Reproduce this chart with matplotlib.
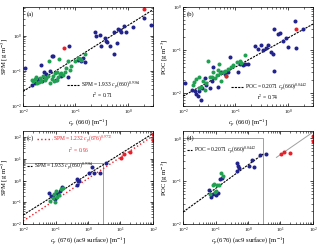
import numpy as np
import matplotlib
matplotlib.use('Agg')
import matplotlib.pyplot as plt
from matplotlib.ticker import LogLocator, NullFormatter

plt.rcParams['font.family'] = ['Liberation Serif', 'DejaVu Serif']
plt.rcParams['mathtext.fontset'] = 'stix'

BLUE = '#23238e'
GREEN = '#22a052'
RED = '#e8202a'
GRAY = '#a0a0a0'

# ---- panel (a): SPM vs cp(660)
a_blue_x = [0.0108, 0.015, 0.017, 0.019, 0.020, 0.022, 0.023, 0.025, 0.028, 0.033, 0.035, 0.038, 0.043, 0.054,
            0.072, 0.074, 0.11, 0.12, 0.13, 0.14, 0.15, 0.235, 0.25, 0.29, 0.31, 0.36, 0.38, 0.40, 0.45, 0.55,
            0.55, 0.61, 0.65, 0.70, 0.75, 0.84, 0.90, 1.26, 2.0, 2.8]
a_blue_y = [0.12, 0.040, 0.045, 0.050, 0.060, 0.15, 0.050, 0.090, 0.080, 0.10, 0.26, 0.27, 0.055, 0.072,
            0.066, 0.52, 0.20, 0.21, 0.19, 0.23, 0.18, 1.3, 0.95, 1.05, 0.50, 0.85, 0.68, 0.65, 0.50, 1.24,
            0.30, 0.62, 1.55, 1.4, 1.3, 1.9, 1.25, 1.8, 3.2, 2.0]
a_green_x = [0.0145, 0.0155, 0.0167, 0.018, 0.0185, 0.0204, 0.0214, 0.0224, 0.024, 0.026, 0.028, 0.030,
             0.031, 0.032, 0.035, 0.037, 0.0385, 0.040, 0.044, 0.045, 0.047, 0.049, 0.050, 0.054, 0.058,
             0.063, 0.067, 0.072, 0.078, 0.083, 0.097, 0.112, 0.12, 0.13, 0.15]
a_green_y = [0.055, 0.051, 0.057, 0.066, 0.045, 0.047, 0.061, 0.050, 0.069, 0.055, 0.061, 0.069,
             0.19, 0.045, 0.057, 0.072, 0.050, 0.089, 0.095, 0.055, 0.066, 0.21, 0.081, 0.089, 0.077,
             0.095, 0.12, 0.19, 0.107, 0.138, 0.19, 0.23, 0.21, 0.20, 0.29]
a_red_x = [0.06, 2.0]
a_red_y = [0.45, 5.8]

# ---- panel (b): POC vs cp(660)
b_blue_x = [0.0108, 0.015, 0.017, 0.018, 0.019, 0.020, 0.022, 0.023, 0.026, 0.028, 0.032, 0.035, 0.037,
            0.047, 0.054, 0.063, 0.072, 0.078, 0.11, 0.12, 0.13, 0.14, 0.15, 0.17, 0.235, 0.27, 0.31, 0.33,
            0.39, 0.42, 0.48, 0.52, 0.55, 0.55, 0.65, 0.70, 0.81, 0.90, 1.0, 1.36, 1.4, 1.9]
b_blue_y = [0.017, 0.012, 0.011, 0.0097, 0.0084, 0.011, 0.007, 0.013, 0.022, 0.015, 0.013, 0.019, 0.04,
            0.014, 0.03, 0.027, 0.031, 0.068, 0.03, 0.048, 0.05, 0.045, 0.047, 0.047, 0.125, 0.105, 0.13, 0.1,
            0.11, 0.13, 0.09, 0.08, 0.3, 0.033, 0.23, 0.25, 0.16, 0.19, 0.12, 0.46, 0.11, 0.3]
b_green_x = [0.0155, 0.016, 0.018, 0.020, 0.0204, 0.022, 0.024, 0.026, 0.028, 0.030, 0.032, 0.035, 0.037,
             0.040, 0.044, 0.047, 0.049, 0.050, 0.054, 0.058, 0.063, 0.067, 0.072, 0.083, 0.09, 0.105, 0.12,
             0.13, 0.15]
b_green_y = [0.015, 0.018, 0.021, 0.023, 0.013, 0.014, 0.019, 0.012, 0.017, 0.055, 0.024, 0.024, 0.03,
             0.022, 0.026, 0.034, 0.048, 0.029, 0.019, 0.03, 0.032, 0.025, 0.037, 0.04, 0.045, 0.053, 0.055,
             0.05, 0.077]
b_red_x = [0.065, 1.45]
b_red_y = [0.025, 0.3]

# ---- panels (c) and (d): cp(676) ac9 surface
cd_blue_x = [0.064, 0.075, 0.085, 0.095, 0.107, 0.12, 0.136, 0.153, 0.45, 0.47, 0.5, 0.52, 1.1, 1.29, 1.58, 2.35, 3.6]
c_blue_y = [0.28, 0.2, 0.19, 0.14, 0.28, 0.25, 0.34, 0.5, 1.15, 0.6, 0.9, 1.0, 2.1, 4.0, 2.1, 2.2, 6.2]
d_blue_y = [0.064, 0.043, 0.05, 0.052, 0.047, 0.052, 0.11, 0.12, 0.26, 0.17, 0.23, 0.2, 0.23, 0.32, 0.22, 0.41, 0.43]
cd_green_x = [0.07, 0.085, 0.089, 0.095, 0.1, 0.11, 0.13, 0.146, 0.165]
c_green_y = [0.12, 0.15, 0.23, 0.1, 0.33, 0.17, 0.22, 0.4, 0.44]
d_green_y = [0.05, 0.08, 0.085, 0.055, 0.058, 0.08, 0.08, 0.16, 0.13]
cd_red_x = [10.5, 13, 20, 97, 97]
c_red_y = [11, 16, 20, 130, 70]
d_red_y = [0.43, 0.48, 0.46, 1.15, 0.85]

# fits (coefficient, exponent)
spm_fit = (1.933, 0.9364)
spm_fit_ac9 = (1.232, 0.9772)
poc_fit_b = (0.19, 0.675)   # line as drawn in (b)
poc_fit_d = (0.24, 0.55)    # line as drawn in (d)
red_fit_d = (0.125, 0.525)

lim_a = [(0.01, 3), (0.01, 6.5)]
lim_b = [(0.01, 3), (0.005, 1)]
lim_c = [(0.01, 100), (0.01, 190)]
lim_d = [(0.01, 100), (0.01, 1.5)]

fig = plt.figure(figsize=(3.2, 2.47), dpi=100)
axa = fig.add_axes([0.072, 0.571, 0.406, 0.401])
axb = fig.add_axes([0.572, 0.571, 0.406, 0.401])
axc = fig.add_axes([0.072, 0.093, 0.406, 0.377])
axd = fig.add_axes([0.572, 0.093, 0.406, 0.377])

ms = 2.9
fs = 4.0
lfs = 4.8


def style(ax, lims):
    ax.set_xscale('log')
    ax.set_yscale('log')
    ax.set_xlim(*lims[0])
    ax.set_ylim(*lims[1])
    ax.tick_params(which='both', direction='in', top=True, right=True, labelsize=3.6, pad=1.2)
    ax.tick_params(which='major', length=2.2, width=0.5)
    ax.tick_params(which='minor', length=1.2, width=0.4)
    ax.xaxis.set_minor_locator(LogLocator(subs=np.arange(2, 10)))
    ax.yaxis.set_minor_locator(LogLocator(subs=np.arange(2, 10)))
    ax.xaxis.set_minor_formatter(NullFormatter())
    ax.yaxis.set_minor_formatter(NullFormatter())
    for s in ax.spines.values():
        s.set_linewidth(0.5)


def fitline(ax, fit, x0, x1, **kw):
    xx = np.logspace(np.log10(x0), np.log10(x1), 50)
    return ax.plot(xx, fit[0] * xx ** fit[1], **kw)


# (a)
style(axa, lim_a)
fitline(axa, spm_fit, 0.01, 3, color='k', ls='--', lw=0.8, dashes=(2, 1),
        label=r'SPM = 1.933 $c_p$(660)$^{0.9364}$')
axa.plot(a_blue_x, a_blue_y, 'o', color=BLUE, ms=ms, mec='none')
axa.plot(a_green_x, a_green_y, 'o', color=GREEN, ms=ms, mec='none')
axa.plot(a_red_x, a_red_y, 'o', color=RED, ms=ms, mec='none')
axa.legend(loc='center left', bbox_to_anchor=(0.34, 0.21), frameon=False, fontsize=fs,
           handlelength=2.2, handletextpad=0.3, borderpad=0, borderaxespad=0)
axa.text(0.61, 0.11, r'r$^2$ = 0.71', transform=axa.transAxes, fontsize=fs, ha='center', va='center')
axa.text(0.03, 0.93, '(a)', transform=axa.transAxes, fontsize=lfs, ha='left', va='center')
axa.set_ylabel(r'SPM [g m$^{-3}$]', fontsize=lfs, labelpad=0.5)
axa.set_xlabel(r'$c_p$ (660) [m$^{-1}$]', fontsize=lfs, labelpad=0.5)

# (b)
style(axb, lim_b)
fitline(axb, poc_fit_b, 0.01, 3, color='k', ls='--', lw=0.8, dashes=(2, 1),
        label=r'POC = 0.2071 $c_p$(660)$^{0.8442}$')
axb.plot(b_blue_x, b_blue_y, 'o', color=BLUE, ms=ms, mec='none')
axb.plot(b_green_x, b_green_y, 'o', color=GREEN, ms=ms, mec='none')
axb.plot(b_red_x, b_red_y, 'o', color=RED, ms=ms, mec='none')
axb.legend(loc='center left', bbox_to_anchor=(0.37, 0.185), frameon=False, fontsize=fs,
           handlelength=2.2, handletextpad=0.3, borderpad=0, borderaxespad=0)
axb.text(0.65, 0.09, r'r$^2$ = 0.74', transform=axb.transAxes, fontsize=fs, ha='center', va='center')
axb.text(0.03, 0.93, '(b)', transform=axb.transAxes, fontsize=lfs, ha='left', va='center')
axb.set_ylabel(r'POC [g m$^{-3}$]', fontsize=lfs, labelpad=0.5)
axb.set_xlabel(r'$c_p$ (660) [m$^{-1}$]', fontsize=lfs, labelpad=0.5)

# (c)
style(axc, lim_c)
axc.plot([lim_a[0][0], lim_a[0][1], lim_a[0][1]], [lim_a[1][1], lim_a[1][1], lim_c[1][0]], color=GRAY, lw=0.7)
l1, = fitline(axc, spm_fit, 0.01, 100, color='k', ls='--', lw=0.8, dashes=(2, 1),
              label=r'SPM = 1.933 $c_p$(660)$^{0.9364}$')
l2, = fitline(axc, spm_fit_ac9, 0.01, 100, color=RED, ls=':', lw=1.0,
              label=r'SPM = 1.232 $c_p$(676)$^{0.9772}$')
axc.plot(cd_blue_x, c_blue_y, 'o', color=BLUE, ms=ms, mec='none')
axc.plot(cd_green_x, c_green_y, 'o', color=GREEN, ms=ms, mec='none')
axc.plot(cd_red_x, c_red_y, 'o', color=RED, ms=ms, mec='none')
leg = axc.legend(handles=[l2], loc='center left', bbox_to_anchor=(0.11, 0.91), frameon=False, fontsize=fs,
                 handlelength=2.6, handletextpad=0.3, borderpad=0, borderaxespad=0, labelcolor=RED)
axc.add_artist(leg)
axc.legend(handles=[l1], loc='center left', bbox_to_anchor=(0.03, 0.625), frameon=False, fontsize=fs,
           handlelength=1.0, handletextpad=0.3, borderpad=0, borderaxespad=0)
axc.text(0.43, 0.795, r'r$^2$ = 0.96', transform=axc.transAxes, fontsize=fs, ha='center', va='center', color=RED)
axc.text(0.03, 0.925, '(c)', transform=axc.transAxes, fontsize=lfs, ha='left', va='center')
axc.set_ylabel(r'SPM [g m$^{-3}$]', fontsize=lfs, labelpad=0.5)
axc.set_xlabel(r'$c_p$ (676) (ac9 surface) [m$^{-1}$]', fontsize=lfs, labelpad=0.5)

# (d)
style(axd, lim_d)
axd.plot([lim_b[0][0], lim_b[0][1], lim_b[0][1]], [lim_b[1][1], lim_b[1][1], lim_d[1][0]], color=GRAY, lw=0.7)
fitline(axd, red_fit_d, 7.5, 100, color=GRAY, lw=0.7)
l3, = fitline(axd, poc_fit_d, 0.01, 3, color='k', ls='--', lw=0.8, dashes=(2, 1),
              label=r'POC = 0.2071 $c_p$(660)$^{0.8442}$')
axd.plot(cd_blue_x, d_blue_y, 'o', color=BLUE, ms=ms, mec='none')
axd.plot(cd_green_x, d_green_y, 'o', color=GREEN, ms=ms, mec='none')
axd.plot(cd_red_x, d_red_y, 'o', color=RED, ms=ms, mec='none')
axd.legend(handles=[l3], loc='center left', bbox_to_anchor=(0.03, 0.795), frameon=False, fontsize=fs,
           handlelength=1.0, handletextpad=0.3, borderpad=0, borderaxespad=0)
axd.text(0.03, 0.925, '(d)', transform=axd.transAxes, fontsize=lfs, ha='left', va='center')
axd.set_ylabel(r'POC [g m$^{-3}$]', fontsize=lfs, labelpad=0.5)
axd.set_xlabel(r'$c_p$(676) (ac9 surface) [m$^{-1}$]', fontsize=lfs, labelpad=0.5)

fig.savefig('out.png', dpi=100)
